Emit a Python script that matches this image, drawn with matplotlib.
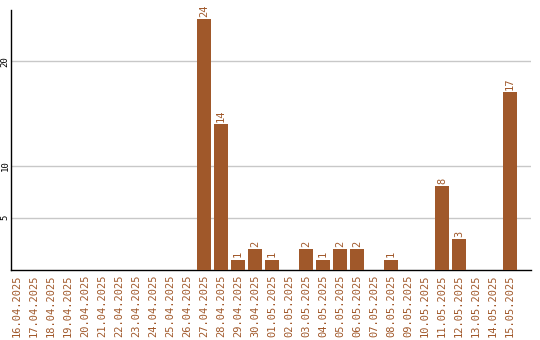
import numpy as np
import matplotlib.pyplot as plt

dates = ["16.04.2025", "17.04.2025", "18.04.2025", "19.04.2025", "20.04.2025",
         "21.04.2025", "22.04.2025", "23.04.2025", "24.04.2025", "25.04.2025",
         "26.04.2025", "27.04.2025", "28.04.2025", "29.04.2025", "30.04.2025",
         "01.05.2025", "02.05.2025", "03.05.2025", "04.05.2025", "05.05.2025",
         "06.05.2025", "07.05.2025", "08.05.2025", "09.05.2025", "10.05.2025",
         "11.05.2025", "12.05.2025", "13.05.2025", "14.05.2025", "15.05.2025"]
counts = [0, 0, 0, 0, 0, 0, 0, 0, 0, 0,
          0, 24, 14, 1, 2, 1, 0, 2, 1, 2,
          2, 0, 1, 0, 0, 8, 3, 0, 0, 17]

color = "#A0582A"
mono = "DejaVu Sans Mono"

fig = plt.figure(figsize=(5.4, 3.4), dpi=100)
ax = fig.add_axes([11/540, 1 - 270/340, 520/540, 260/340])

x = np.arange(len(dates))
ax.bar(x, counts, width=14/17, color=color, zorder=3)

# value labels above the bars (skip empty days)
for i, v in enumerate(counts):
    if v > 0:
        ax.text(i, v + 0.2, str(v), rotation=90, ha="center", va="bottom",
                color=color, fontsize=7.5, family=mono)

ax.set_xlim(-0.35, 30.24)
ax.set_ylim(0, 24.9)
ax.set_yticks([5, 10, 20])
ax.set_yticklabels(["5", "10", "20"], rotation=90, va="center", family=mono, fontsize=6.5)
ax.set_xticks(x)
ax.set_xticklabels(dates, rotation=90, color=color, family=mono, fontsize=7.5)
ax.tick_params(axis="both", length=0, pad=3)
ax.tick_params(axis="y", pad=1)
ax.grid(axis="y", color="#c8c8c8", linewidth=1, zorder=0)

for s in ["top", "right"]:
    ax.spines[s].set_visible(False)
ax.spines["left"].set_linewidth(1)
ax.spines["bottom"].set_linewidth(1)

plt.savefig("out.png", dpi=100)
